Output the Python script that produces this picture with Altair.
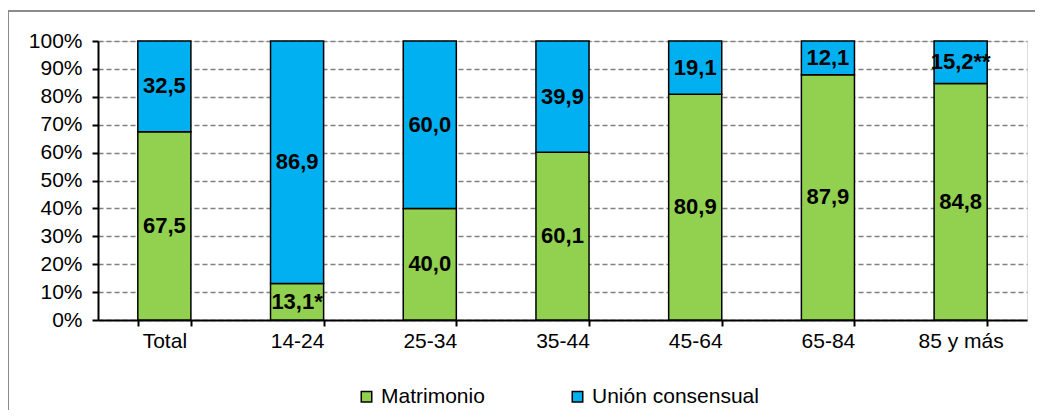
import altair as alt
import pandas as pd

categories = ["Total", "14-24", "25-34", "35-44", "45-64", "65-84", "85 y más"]
matrimonio = [67.5, 13.1, 40.0, 60.1, 80.9, 87.9, 84.8]
union = [32.5, 86.9, 60.0, 39.9, 19.1, 12.1, 15.2]
matrimonio_labels = ["67,5", "13,1*", "40,0", "60,1", "80,9", "87,9", "84,8"]
union_labels = ["32,5", "86,9", "60,0", "39,9", "19,1", "12,1", "15,2**"]
series = ["Matrimonio", "Unión consensual"]
colors = ["#92D050", "#00B0F0"]
y_ticks = [0, 10, 20, 30, 40, 50, 60, 70, 80, 90, 100]

rows = []
for i, c in enumerate(categories):
    rows.append({"cat": c, "serie": series[0], "ord": 0, "value": matrimonio[i], "label": matrimonio_labels[i]})
    rows.append({"cat": c, "serie": series[1], "ord": 1, "value": union[i], "label": union_labels[i]})
df = pd.DataFrame(rows)

FONT = "Liberation Sans, Arial, sans-serif"

base = alt.Chart(df).transform_stack(
    stack="value", groupby=["cat"], as_=["v0", "v1"], sort=[alt.SortField("ord")]
).transform_calculate(mid="(datum.v0 + datum.v1) / 2")

xaxis = alt.Axis(labelAngle=0, labelFontSize=21, labelFont=FONT, labelColor="#000",
                 domainColor="#000", domainWidth=2, tickColor="#000", tickWidth=2,
                 tickSize=6, tickBand="extent", labelPadding=4, grid=False,
                 labelOverlap=False)
xscale = alt.Scale(paddingInner=0.6, paddingOuter=0.3)

yaxis = alt.Axis(values=y_ticks, labelExpr="datum.value + '%'", labelFontSize=21,
                 labelFont=FONT, labelColor="#000", labelPadding=10,
                 labelOverlap=False, tickCount=11,
                 domainColor="#000", domainWidth=2, tickColor="#000", tickWidth=2,
                 tickSize=6, grid=True, gridColor="#808080", gridDash=[5, 3],
                 gridWidth=1.5)
yscale = alt.Scale(domain=[0, 100], nice=False)

bars = base.mark_bar(stroke="#000", strokeWidth=1.5).encode(
    x=alt.X("cat:N", sort=categories, title=None, scale=xscale, axis=xaxis),
    y=alt.Y("v0:Q", scale=yscale, title=None, axis=yaxis),
    y2="v1:Q",
    color=alt.Color("serie:N", scale=alt.Scale(domain=series, range=colors), title=None,
                    legend=alt.Legend(orient="none", direction="horizontal", legendX=258,
                                      legendY=345, symbolType="square", symbolSize=110,
                                      symbolStrokeColor="#000", symbolStrokeWidth=1.5,
                                      symbolOpacity=1, labelFontSize=21, labelFont=FONT,
                                      labelColor="#000", columnPadding=82, labelOffset=4,
                                      labelLimit=400)),
)

text = base.mark_text(fontSize=22, fontWeight="bold", font=FONT, color="#000").encode(
    x=alt.X("cat:N", sort=categories, title=None, scale=xscale, axis=xaxis),
    y=alt.Y("mid:Q", scale=yscale, title=None, axis=yaxis),
    text="label:N",
)

border = alt.Chart(pd.DataFrame({"a": [0]})).mark_rect(
    filled=False, stroke="#8c8c8c", strokeWidth=2
).encode(x=alt.value(-90), x2=alt.value(1100), y=alt.value(-30), y2=alt.value(600))

chart = alt.layer(bars, text, border).properties(
    width=929, height=279,
    autosize=alt.AutoSizeParams(type="none"),
    padding={"left": 90, "top": 33, "right": 8, "bottom": 90},
).configure_view(stroke="#808080", strokeWidth=1.5).configure(background="white")

chart.save("out.html", embed_options={"renderer": "svg", "actions": False})
